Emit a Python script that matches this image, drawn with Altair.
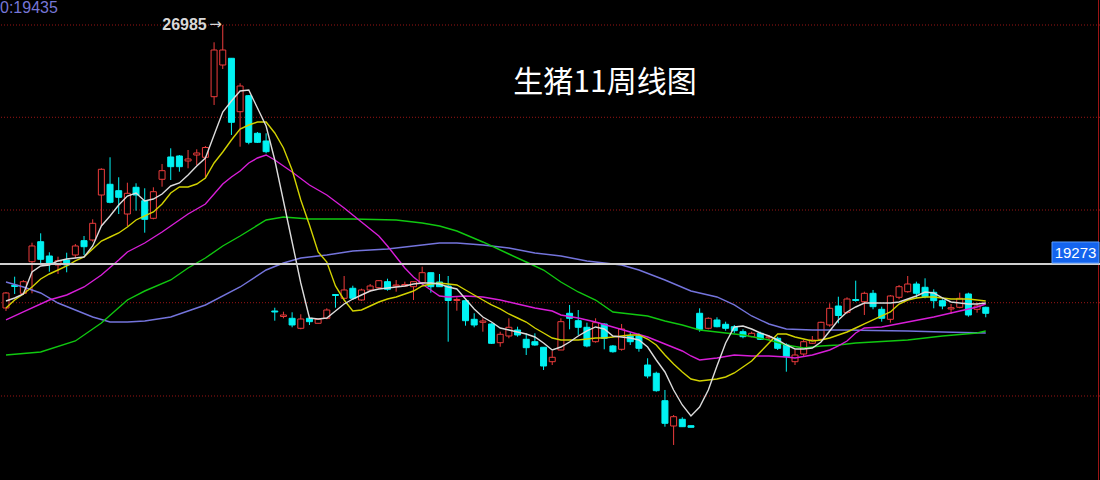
import altair as alt
import pandas as pd

# Weekly candles (price units), oldest first
opens = [17853, 18585, 18327, 19347, 19992, 19531, 19240, 19402, 19563, 20025,
         20047, 21499, 21845, 21638, 20886, 21748, 21315, 20747, 22006, 22726,
         22758, 22597, 22790, 22716, 24671, 25694, 25911, 24187, 24704, 23490,
         23242, 17756, 17579, 17520, 17198, 17520, 17359, 17520, 18288, 18166,
         18489, 18111, 18434, 18508, 18702, 18563, 18563, 18540, 18669, 18992,
         18692, 18563, 18095, 18089, 17488, 17391, 17337, 16733, 16949, 17143,
         16843, 16765, 16585, 16120, 16497, 17682, 17443, 17230, 16765, 17337,
         16627, 16520, 16949, 16949, 16013, 15746, 14861, 14045, 14261, 14055,
         17682, 17198, 17466, 17327, 17249, 17088, 16927, 17036, 16891, 16875,
         16659, 16120, 16368, 16714, 16843, 17304, 17917, 17708, 18127, 18056,
         18327, 17811, 17488, 18198, 18379, 18627, 18521, 18359, 18089, 17821,
         17875, 18305, 17811, 17875]
highs = [18369, 18863, 18756, 19960, 20263, 19650, 19508, 19637, 19918, 20176,
         20715, 22361, 22716, 22071, 21896, 21877, 21716, 21748, 22500, 23006,
         22790, 22951, 22974, 23081, 26427, 26985, 25911, 25104, 24726, 23532,
         23490, 17862, 17733, 17714, 17650, 17572, 17514, 17843, 18288, 18885,
         18572, 18476, 18627, 18756, 18798, 18756, 18702, 18702, 19186, 18992,
         18950, 18885, 18198, 18089, 17682, 17520, 17359, 17088, 17520, 17249,
         17036, 17036, 16585, 16465, 17520, 17950, 17788, 17379, 17520, 17359,
         16659, 17337, 17056, 17036, 16230, 15797, 15207, 14400, 14326, 14055,
         17843, 17553, 17553, 17411, 17304, 17165, 17088, 17088, 16982, 16927,
         16714, 16497, 16820, 16949, 17411, 18004, 18217, 18198, 18734, 18379,
         18434, 17895, 18272, 18595, 18885, 18702, 18811, 18456, 18134, 17982,
         18347, 18347, 18024, 17895]
lows = [17756, 18305, 18272, 18327, 19273, 19024, 18950, 19005, 19457, 19563,
        19992, 20499, 21231, 20886, 20499, 20993, 20283, 20715, 21767, 21983,
        22251, 22361, 22467, 22038, 24404, 25565, 23436, 23058, 23135, 23177,
        22845, 17443, 17520, 17230, 17165, 17304, 17353, 17488, 17862, 18134,
        18111, 18089, 18379, 18476, 18411, 18379, 18540, 18111, 18627, 18347,
        18540, 16765, 17766, 17282, 17230, 17088, 16691, 16604, 16875, 16927,
        16336, 16636, 15852, 16013, 16497, 17165, 16982, 16585, 16733, 16520,
        16410, 16475, 16659, 16442, 15584, 15152, 14022, 13432, 14013, 14003,
        17088, 17165, 17230, 17120, 17036, 16875, 16907, 16820, 16820, 16497,
        15797, 16013, 16281, 16691, 16820, 17249, 17359, 17659, 18056, 17627,
        17811, 17411, 17379, 18134, 18347, 18166, 18166, 17843, 17811, 17659,
        17843, 17572, 17701, 17553]
closes = [18337, 18547, 18702, 19854, 19424, 19273, 19379, 19240, 19854, 19831,
          20586, 22329, 21264, 21425, 21554, 21499, 20715, 21606, 22284, 22413,
          22413, 22661, 22855, 23032, 26178, 26178, 23845, 25017, 23200, 23200,
          22897, 17724, 17627, 17304, 17498, 17411, 17488, 17788, 18256, 18434,
          18166, 18434, 18563, 18734, 18456, 18595, 18611, 18702, 18992, 18540,
          18540, 18095, 18127, 17443, 17304, 17433, 16714, 17004, 17230, 16982,
          16572, 16659, 15981, 16262, 17411, 17520, 17230, 16627, 17379, 16875,
          16442, 17175, 16765, 16552, 15658, 15184, 14132, 14345, 14022, 14003,
          17165, 17520, 17249, 17198, 17120, 16927, 17036, 16843, 16923, 16552,
          16281, 16336, 16765, 16820, 17391, 17843, 17611, 18143, 18095, 18327,
          17895, 17520, 18240, 18540, 18627, 18327, 18217, 18089, 17917, 17862,
          18166, 17627, 17917, 17682]

# Moving averages, read at the listed candle positions
ma5_idx = list(range(0, 114))
ma5_val = [18079, 18176, 18305, 19015, 19208, 19240, 19370, 19434, 19466, 19499,
           19854, 20499, 20822, 21177, 21467, 21564, 21306, 21370, 21532, 21790,
           21887, 22145, 22435, 22693, 23436, 24178, 24533, 24855, 24888, 24307,
           23726, 22629, 21306, 19983, 18660, 17530, 17498, 17530, 17756, 17982,
           18143, 18272, 18401, 18466, 18498, 18531, 18563, 18627, 18660, 18660,
           18627, 18531, 18466, 18143, 17821, 17562, 17401, 17207, 17143, 17078,
           17014, 16917, 16723, 16497, 16594, 16756, 16949, 17111, 17240, 17175,
           16949, 16917, 16885, 16820, 16594, 16175, 15788, 15207, 14723, 14368,
           14658, 15207, 15981, 16723, 17240, 17272, 17175, 17046, 16949, 16820,
           16659, 16530, 16530, 16562, 16756, 17111, 17466, 17724, 17885, 18014,
           18014, 18014, 18014, 18046, 18143, 18240, 18369, 18337, 18176, 18046,
           18014, 17982, 17982, 18014]

ma10_idx = list(range(0, 114))
ma10_val = [17853, 18111, 18305, 18531, 18789, 18950, 19079, 19208, 19370, 19499,
            19757, 20015, 20144, 20273, 20467, 20693, 20822, 20951, 21209, 21564,
            21758, 21758, 21854, 22048, 22532, 22887, 23274, 23629, 23758, 23855,
            23855, 23500, 23016, 22306, 21338, 20531, 19660, 19337, 18563, 18111,
            17756, 17788, 17917, 18046, 18143, 18208, 18305, 18401, 18563, 18627,
            18660, 18627, 18595, 18434, 18272, 18111, 17950, 17821, 17659, 17530,
            17401, 17207, 17046, 16885, 16820, 16820, 16820, 16852, 16885, 16885,
            16917, 16949, 16982, 16982, 16852, 16659, 16336, 16046, 15788, 15562,
            15497, 15529, 15562, 15626, 15755, 15949, 16143, 16433, 16723, 17014,
            17014, 16917, 16852, 16788, 16820, 16885, 16982, 17078, 17207, 17337,
            17466, 17595, 17724, 17982, 18111, 18176, 18208, 18208, 18176, 18143,
            18143, 18143, 18111, 18079]

ma20_idx = [0, 2, 5, 7, 9, 11, 13, 14, 16, 18, 19, 21, 23, 25, 26, 27, 28, 29,
            30, 31, 33, 35, 37, 39, 41, 43, 44, 45, 46, 47, 48, 49, 50, 51, 53,
            55, 57, 59, 61, 63, 64, 66, 68, 70, 72, 74, 76, 78, 79, 80, 82, 84,
            86, 88, 90, 91, 93, 95, 96, 97, 98, 99, 101, 104, 107, 110, 112, 113]
ma20_val = [17466, 17724, 18111, 18272, 18531, 18918, 19402, 19660, 19950, 20305,
            20499, 20886, 21209, 21854, 22080, 22274, 22532, 22693, 22790, 22629,
            22242, 21822, 21499, 21080, 20628, 20176, 19854, 19499, 19144, 18853,
            18627, 18434, 18240, 18208, 18240, 18208, 18111, 17982, 17853, 17756,
            17627, 17530, 17401, 17240, 17078, 16917, 16691, 16465, 16304, 16175,
            16239, 16336, 16304, 16304, 16272, 16239, 16336, 16497, 16627, 16788,
            17046, 17207, 17240, 17401, 17562, 17756, 17885, 17982]

ma40_idx = [0, 4, 8, 11, 14, 16, 19, 21, 23, 25, 27, 30, 32, 35, 40, 45, 48, 50,
            52, 55, 58, 60, 62, 64, 66, 68, 70, 72, 74, 76, 78, 80, 82, 85, 88,
            90, 92, 94, 96, 98, 100, 104, 108, 112, 113]
ma40_val = [16336, 16433, 16788, 17369, 18111, 18401, 18756, 19144, 19466, 19854,
            20176, 20693, 20789, 20725, 20725, 20693, 20596, 20499, 20338, 19983,
            19595, 19337, 19079, 18692, 18369, 18111, 17724, 17659, 17595, 17433,
            17304, 17143, 17078, 16982, 16820, 16659, 16562, 16627, 16659, 16723,
            16756, 16820, 16949, 17046, 17111]

ma60_idx = [0, 2, 4, 6, 8, 10, 12, 14, 16, 19, 23, 27, 30, 32, 34, 37, 40, 44,
            48, 50, 52, 55, 58, 61, 64, 67, 71, 73, 76, 79, 82, 84, 86, 88, 90,
            93, 97, 100, 104, 108, 113]
ma60_val = [18692, 18531, 18337, 18014, 17788, 17562, 17401, 17401, 17433, 17562,
            17950, 18531, 19079, 19305, 19466, 19563, 19692, 19757, 19886, 19950,
            19950, 19886, 19789, 19628, 19531, 19370, 19240, 19079, 18756, 18401,
            18208, 17950, 17595, 17337, 17175, 17143, 17143, 17127, 17111, 17078,
            17046]

grid_levels = [26985, 24007, 21015, 18024, 15013]
last_price = 19273
peak_price = 26985
peak_index = 25
corner_label = "0:19435"
title_text = "生猪11周线图"

RED = "#ec3c3c"
CYAN = "#00f2f2"
BG = "#000000"

xs = alt.Scale(domain=[-0.1145, 125.6], nice=False, zero=False)
ys = alt.Scale(domain=[12302, 27792], nice=False, zero=False)

candles = pd.DataFrame({
    "idx": range(len(opens)),
    "open": opens, "high": highs, "low": lows, "close": closes,
})
candles["dir"] = ["up" if c >= o else "down" for o, c in zip(opens, closes)]

X = alt.X("idx:Q", scale=xs, axis=None)

grid = alt.Chart(pd.DataFrame({"level": grid_levels})).mark_rule(
    color="#9a1515", strokeWidth=1, strokeDash=[1, 2]
).encode(y=alt.Y("level:Q", scale=ys, axis=None))

wicks = alt.Chart(candles).mark_rule(strokeWidth=1).encode(
    x=X,
    y=alt.Y("low:Q", scale=ys, axis=None),
    y2="high:Q",
    color=alt.Color("dir:N", scale=alt.Scale(domain=["up", "down"], range=[RED, CYAN]), legend=None),
)

up_bodies = alt.Chart(candles).transform_filter(alt.datum.dir == "up").mark_bar(
    size=6, fill=BG, stroke=RED, strokeWidth=1
).encode(x=X, y=alt.Y("open:Q", scale=ys, axis=None), y2="close:Q")

down_bodies = alt.Chart(candles).transform_filter(alt.datum.dir == "down").mark_bar(
    size=6, fill=CYAN, stroke=CYAN, strokeWidth=1
).encode(x=X, y=alt.Y("open:Q", scale=ys, axis=None), y2="close:Q")


def ma_line(idx, vals, color):
    df = pd.DataFrame({"idx": idx, "v": vals})
    return alt.Chart(df).mark_line(color=color, strokeWidth=1.4).encode(
        x=X, y=alt.Y("v:Q", scale=ys, axis=None)
    )


ma60 = ma_line(ma60_idx, ma60_val, "#7474dc")
ma40 = ma_line(ma40_idx, ma40_val, "#10c810")
ma20 = ma_line(ma20_idx, ma20_val, "#d81ed8")
ma10 = ma_line(ma10_idx, ma10_val, "#d2d200")
ma5 = ma_line(ma5_idx, ma5_val, "#dcdcdc")

price_df = pd.DataFrame({"p": [last_price], "t": [str(last_price)]})
last_rule = alt.Chart(price_df).mark_rule(color="#cfcfcf", strokeWidth=2).encode(
    y=alt.Y("p:Q", scale=ys, axis=None)
)
last_box = alt.Chart(price_df).mark_rect(
    fill="#1464ee", stroke="#5a9cff", strokeWidth=1, yOffset=-22, y2Offset=-1
).encode(
    x=alt.value(1052), x2=alt.value(1099),
    y=alt.Y("p:Q", scale=ys, axis=None), y2="p:Q",
)
last_text = alt.Chart(price_df).mark_text(
    color="white", fontSize=15, font="Liberation Sans", align="center", baseline="middle", dy=-11
).encode(x=alt.value(1075.5), y=alt.Y("p:Q", scale=ys, axis=None), text="t:N")

peak_df = pd.DataFrame({"idx": [peak_index], "p": [peak_price], "t": [str(peak_price)]})
peak_text = alt.Chart(peak_df).mark_text(
    color="#d8d8d8", fontSize=16, fontWeight="bold", font="Liberation Sans",
    align="right", baseline="middle", dx=-16
).encode(x=X, y=alt.Y("p:Q", scale=ys, axis=None), text="t:N")
peak_arrow = alt.Chart(peak_df.assign(a="→")).mark_text(
    color="#d8d8d8", fontSize=15, font="DejaVu Sans",
    align="right", baseline="middle", dx=-1, dy=-1
).encode(x=X, y=alt.Y("p:Q", scale=ys, axis=None), text="a:N")

edge = alt.Chart(pd.DataFrame({"k": [0]})).mark_rule(color="#9a1515", strokeWidth=1).encode(
    x=alt.value(1098.5), y=alt.value(0), y2=alt.value(480)
)

corner = alt.Chart(pd.DataFrame({"t": [corner_label]})).mark_text(
    color="#7676d6", fontSize=16, font="Liberation Sans", align="left", baseline="alphabetic"
).encode(x=alt.value(0), y=alt.value(13), text="t:N")

title = alt.Chart(pd.DataFrame({"t": [title_text]})).mark_text(
    color="white", fontSize=30, font="Noto Sans CJK SC", align="center", baseline="middle"
).encode(x=alt.value(605), y=alt.value(83), text="t:N")

chart = alt.layer(
    grid, edge, wicks, up_bodies, down_bodies,
    ma60, ma40, ma20, ma10, ma5,
    last_rule, last_box, last_text, peak_text, peak_arrow, corner, title,
).properties(
    width=1100, height=480, background=BG, padding=0,
    autosize=alt.AutoSizeParams(type="none"),
).configure_view(stroke=None)

chart.save("out.html", embed_options={"renderer": "svg", "actions": False})
